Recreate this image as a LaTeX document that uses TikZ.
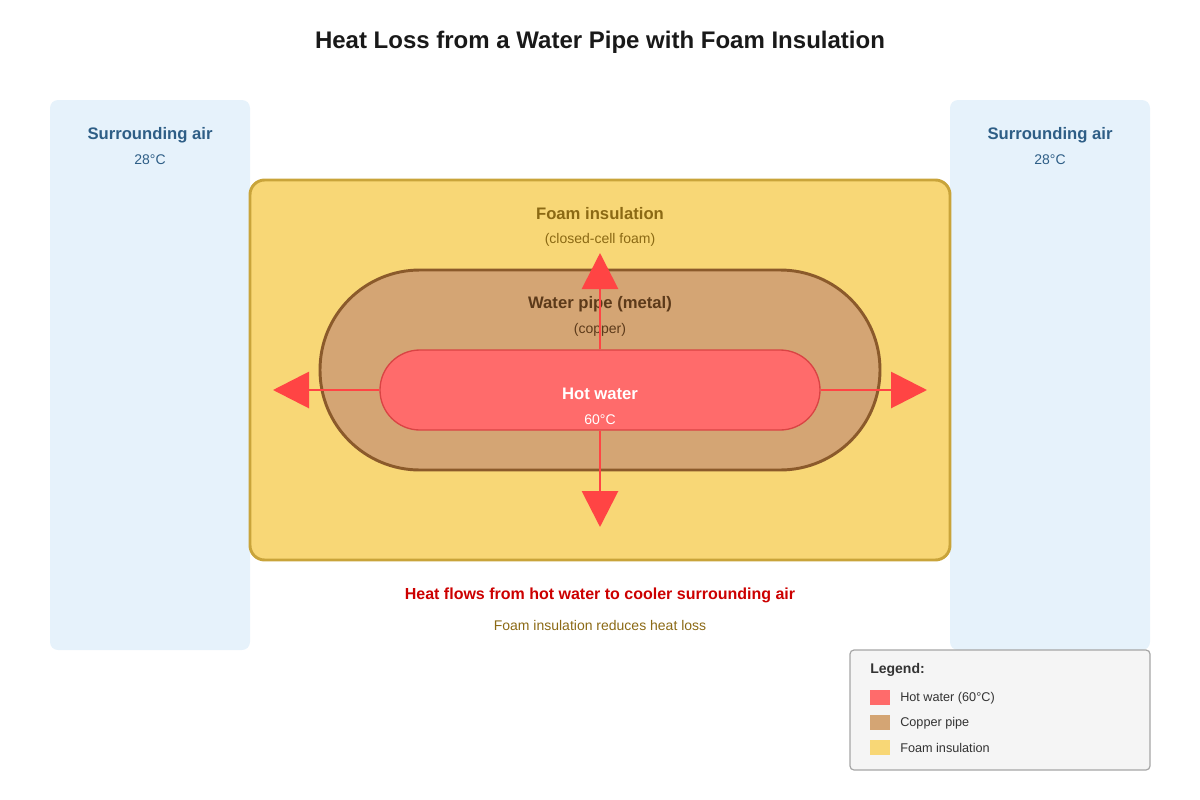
\documentclass[tikz,border=0pt]{standalone}
\usepackage{fontspec}
\setmainfont{Liberation Sans}
\usetikzlibrary{arrows.meta}
\definecolor{airfill}{HTML}{E6F2FB}
\definecolor{airtext}{HTML}{2E5E86}
\definecolor{foamfill}{HTML}{F8D776}
\definecolor{foamline}{HTML}{C9A43A}
\definecolor{foamtext}{HTML}{8B6914}
\definecolor{pipefill}{HTML}{D4A574}
\definecolor{pipeline}{HTML}{8B5A2B}
\definecolor{pipetext}{HTML}{5C3A1A}
\definecolor{waterfill}{HTML}{FF6B6B}
\definecolor{waterline}{HTML}{D94444}
\definecolor{heat}{HTML}{FF4444}
\definecolor{heattext}{HTML}{CC0000}
\begin{document}
\begin{tikzpicture}[x=0.75pt,y=-0.75pt,
  air/.style={fill=airfill,draw=none,rounded corners=6},
  lbl/.style={font=\fontsize{12.5}{14}\selectfont\bfseries,inner sep=0},
  sub/.style={font=\fontsize{10.5}{12}\selectfont,inner sep=0},
  heatarrow/.style={draw=heat,line width=2.2pt,-{Triangle[length=27pt,width=27pt]}},
  sw/.style={minimum width=15pt,minimum height=11.25pt,inner sep=0,draw=none,anchor=north west}]
\useasboundingbox (0,0) rectangle (1200,800);
\node[font=\fontsize{18}{20}\selectfont\bfseries,text=black!90] (title) at (600,42) {Heat Loss from a Water Pipe with Foam Insulation};
\filldraw[air] (50,100) rectangle (250,650);
\filldraw[air] (950,100) rectangle (1150,650);
\node[lbl,text=airtext] (la) at (150,135) {Surrounding air};
\node[sub,text=airtext] (lt) at (150,160) {28°C};
\node[lbl,text=airtext] (ra) at (1050,135) {Surrounding air};
\node[sub,text=airtext] (rt) at (1050,160) {28°C};
\filldraw[fill=foamfill,draw=foamline,line width=2.2pt,rounded corners=11] (250,180) rectangle (950,560);
\node[lbl,text=foamtext] (ft) at (600,214) {Foam insulation};
\node[sub,text=foamtext] (fs) at (600,240) {(closed-cell foam)};
\filldraw[fill=pipefill,draw=pipeline,line width=2.2pt,rounded corners=74.9] (320,270) rectangle (880,470);
\node[lbl,text=pipetext] (pt) at (600,304) {Water pipe (metal)};
\node[sub,text=pipetext] (ps) at (600,330) {(copper)};
\node[fill=waterfill,draw=waterline,line width=1pt,rounded corners=29.9,minimum width=330pt,minimum height=60pt,inner sep=0] (water) at (600,390) {};
\coordinate (up) at (600,253);
\coordinate (down) at (600,527);
\coordinate (left) at (273,390);
\coordinate (right) at (927,390);
\draw[heatarrow] (water.north) -- (up);
\draw[heatarrow] (water.south) -- (down);
\draw[heatarrow] (water.west) -- (left);
\draw[heatarrow] (water.east) -- (right);
\node[lbl,text=white] (wt) at (600,394) {Hot water};
\node[sub,text=white] (ws) at (600,420) {60°C};
\node[font=\fontsize{12}{14}\selectfont\bfseries,text=heattext,inner sep=0] (msg) at (600,595) {Heat flows from hot water to cooler surrounding air};
\node[sub,text=foamtext] (msg2) at (600,625) {Foam insulation reduces heat loss};
\filldraw[fill=black!4,draw=black!35,line width=0.9pt,rounded corners=3] (850,650) rectangle (1150,770);
\node[font=\fontsize{10.5}{12}\selectfont\bfseries,text=black!80,anchor=west,inner sep=0] (lg) at (870,670) {Legend:};
\node[sw,fill=waterfill] (s1) at (870,690) {};
\node[sw,fill=pipefill] (s2) at (870,715) {};
\node[sw,fill=foamfill] (s3) at (870,740) {};
\node[sub,font=\fontsize{9.5}{11}\selectfont,text=black!80,anchor=west] (l1) at (900,698) {Hot water (60°C)};
\node[sub,font=\fontsize{9.5}{11}\selectfont,text=black!80,anchor=west] (l2) at (900,723) {Copper pipe};
\node[sub,font=\fontsize{9.5}{11}\selectfont,text=black!80,anchor=west] (l3) at (900,748) {Foam insulation};
\end{tikzpicture}
\end{document}
